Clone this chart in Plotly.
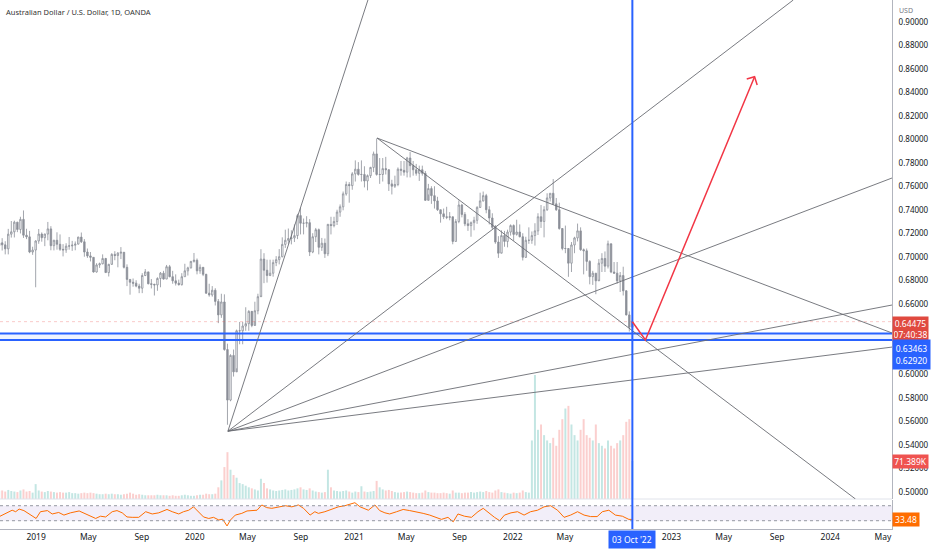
import pandas as pd
import plotly.graph_objects as go

# weekly AUD/USD candles, week starting Mondays
week_start = "2018-10-08"
first_open = 0.7095
close = [
    0.7118, 0.7101, 0.7067, 0.7192, 0.7212, 0.7294, 0.7232, 0.7318, 0.7183, 0.7169, 0.7040, 0.7057, 0.7134,
    # 2019
    0.7193, 0.7162, 0.7193, 0.7237, 0.7094, 0.7140, 0.7106, 0.7063, 0.7058, 0.7090, 0.7092, 0.7098,
    0.7107, 0.7167, 0.7127, 0.7040, 0.7007, 0.6995, 0.6870, 0.6930, 0.6940, 0.6985, 0.6865, 0.6935, 0.7020,
    0.7010, 0.7030, 0.7038, 0.6910, 0.6807, 0.6783, 0.6775, 0.6750, 0.6732, 0.6840, 0.6871, 0.6770, 0.6765, 0.6760,
    0.6815, 0.6860, 0.6810, 0.6915, 0.6830, 0.6795, 0.6775, 0.6762, 0.6830, 0.6880, 0.6905, 0.6960, 0.6970,
    # 2020
    0.6880, 0.6910, 0.6850, 0.6690, 0.6675, 0.6715, 0.6620, 0.6505, 0.6615, 0.6210, 0.5780, 0.6160, 0.6020,
    0.6370, 0.6370, 0.6410, 0.6430, 0.6535, 0.6415, 0.6540, 0.6660, 0.6980, 0.6885, 0.6840, 0.6860, 0.6950,
    0.6975, 0.7000, 0.7105, 0.7140, 0.7155, 0.7160, 0.7180, 0.7350, 0.7285, 0.7285, 0.7290, 0.7040, 0.7170,
    0.7230, 0.7080, 0.7115, 0.7025, 0.7275, 0.7265, 0.7300, 0.7380, 0.7425, 0.7535, 0.7615, 0.7605, 0.7705,
    # 2021
    0.7745, 0.7700, 0.7700, 0.7645, 0.7690, 0.7760, 0.7875, 0.7700, 0.7700, 0.7750, 0.7740, 0.7620, 0.7600,
    0.7615, 0.7745, 0.7735, 0.7720, 0.7840, 0.7775, 0.7740, 0.7710, 0.7740, 0.7710, 0.7480, 0.7580, 0.7520,
    0.7475, 0.7400, 0.7365, 0.7340, 0.7335, 0.7340, 0.7130, 0.7300, 0.7440, 0.7360, 0.7280, 0.7265, 0.7290,
    0.7310, 0.7420, 0.7475, 0.7520, 0.7400, 0.7330, 0.7250, 0.7125, 0.7030, 0.7180, 0.7130, 0.7210, 0.7265,
    # 2022
    0.7190, 0.7210, 0.7170, 0.6995, 0.7140, 0.7140, 0.7180, 0.7220, 0.7340, 0.7300, 0.7400, 0.7500, 0.7540,
    0.7450, 0.7400, 0.7240, 0.7070, 0.7070, 0.6945, 0.7100, 0.7160, 0.7220, 0.7060, 0.7050, 0.6960, 0.6830,
    0.6860, 0.6795, 0.6945, 0.6985, 0.6920, 0.7110, 0.6870, 0.6860, 0.6795, 0.6840, 0.6710, 0.6505, 0.6400,
    0.64475,
]
high = [
    0.7148, 0.7158, 0.7132, 0.7237, 0.7304, 0.7307, 0.7297, 0.7340, 0.7394, 0.7238, 0.7220, 0.7085, 0.7140,
    0.7236, 0.7207, 0.7196, 0.7296, 0.7260, 0.7144, 0.7208, 0.7190, 0.7107, 0.7115, 0.7168, 0.7135,
    0.7130, 0.7170, 0.7206, 0.7150, 0.7070, 0.7040, 0.6997, 0.6945, 0.6950, 0.7020, 0.6990, 0.6940, 0.7030,
    0.7047, 0.7040, 0.7082, 0.7040, 0.6935, 0.6810, 0.6815, 0.6800, 0.6770, 0.6860, 0.6895, 0.6870, 0.6810, 0.6770,
    0.6825, 0.6870, 0.6880, 0.6930, 0.6930, 0.6880, 0.6850, 0.6805, 0.6860, 0.6940, 0.6915, 0.6965, 0.7032,
    0.6985, 0.6935, 0.6895, 0.6855, 0.6770, 0.6750, 0.6732, 0.6640, 0.6685, 0.6680, 0.6260, 0.6170, 0.6210,
    0.6380, 0.6445, 0.6445, 0.6570, 0.6545, 0.6530, 0.6617, 0.6685, 0.7064, 0.7030, 0.6975, 0.6975, 0.6975,
    0.7005, 0.7065, 0.7165, 0.7230, 0.7240, 0.7225, 0.7275, 0.7365, 0.7414, 0.7325, 0.7345, 0.7320, 0.7200,
    0.7245, 0.7240, 0.7160, 0.7155, 0.7280, 0.7340, 0.7340, 0.7400, 0.7445, 0.7555, 0.7640, 0.7635, 0.7720,
    0.7820, 0.7805, 0.7820, 0.7770, 0.7700, 0.7765, 0.7895, 0.8007, 0.7840, 0.7840, 0.7850, 0.7745, 0.7655,
    0.7690, 0.7760, 0.7815, 0.7815, 0.7850, 0.7891, 0.7815, 0.7790, 0.7775, 0.7775, 0.7730, 0.7620, 0.7600,
    0.7600, 0.7510, 0.7400, 0.7410, 0.7425, 0.7380, 0.7340, 0.7320, 0.7480, 0.7450, 0.7380, 0.7320, 0.7300,
    0.7340, 0.7430, 0.7545, 0.7555, 0.7535, 0.7430, 0.7370, 0.7270, 0.7175, 0.7225, 0.7220, 0.7230, 0.7275,
    0.7275, 0.7315, 0.7275, 0.7200, 0.7170, 0.7250, 0.7215, 0.7285, 0.7370, 0.7440, 0.7430, 0.7540, 0.7540,
    0.7661, 0.7500, 0.7460, 0.7230, 0.7265, 0.7035, 0.7125, 0.7170, 0.7282, 0.7250, 0.7070, 0.7070, 0.6970,
    0.6880, 0.6860, 0.6980, 0.7030, 0.7045, 0.7137, 0.7100, 0.6955, 0.6955, 0.6870, 0.6915, 0.6715, 0.6535,
    0.6460,
]
low = [
    0.7041, 0.7053, 0.7020, 0.7020, 0.7163, 0.7164, 0.7209, 0.7198, 0.7160, 0.7150, 0.7030, 0.7016, 0.6740,
    0.7110, 0.7128, 0.7090, 0.7140, 0.7055, 0.7054, 0.7060, 0.7050, 0.7003, 0.7033, 0.7060, 0.7050,
    0.7055, 0.7110, 0.7117, 0.7000, 0.6990, 0.6960, 0.6865, 0.6865, 0.6905, 0.6935, 0.6862, 0.6832, 0.6940,
    0.6970, 0.6910, 0.6980, 0.6900, 0.6750, 0.6677, 0.6745, 0.6740, 0.6690, 0.6690, 0.6835, 0.6765, 0.6730, 0.6670,
    0.6710, 0.6740, 0.6805, 0.6810, 0.6825, 0.6770, 0.6755, 0.6755, 0.6755, 0.6830, 0.6840, 0.6900, 0.6950,
    0.6850, 0.6855, 0.6835, 0.6684, 0.6660, 0.6660, 0.6585, 0.6435, 0.6480, 0.6200, 0.5570, 0.5770, 0.5980,
    0.6050, 0.6255, 0.6255, 0.6370, 0.6370, 0.6400, 0.6450, 0.6510, 0.6670, 0.6775, 0.6780, 0.6835, 0.6830,
    0.6920, 0.6935, 0.6995, 0.7075, 0.7110, 0.7105, 0.7125, 0.7150, 0.7190, 0.7190, 0.7250, 0.7006, 0.7030,
    0.7125, 0.7020, 0.7050, 0.6990, 0.7005, 0.7190, 0.7250, 0.7270, 0.7340, 0.7395, 0.7520, 0.7460, 0.7570,
    0.7640, 0.7690, 0.7640, 0.7590, 0.7565, 0.7670, 0.7720, 0.7690, 0.7620, 0.7640, 0.7700, 0.7560, 0.7530,
    0.7585, 0.7600, 0.7690, 0.7690, 0.7675, 0.7675, 0.7690, 0.7690, 0.7645, 0.7690, 0.7475, 0.7530, 0.7450,
    0.7410, 0.7390, 0.7290, 0.7320, 0.7320, 0.7310, 0.7106, 0.7130, 0.7285, 0.7335, 0.7260, 0.7220, 0.7170,
    0.7225, 0.7280, 0.7415, 0.7470, 0.7370, 0.7275, 0.7235, 0.7110, 0.6990, 0.7035, 0.7085, 0.7080, 0.7180,
    0.7135, 0.7180, 0.7165, 0.6968, 0.6990, 0.7110, 0.7110, 0.7095, 0.7185, 0.7245, 0.7165, 0.7390, 0.7470,
    0.7440, 0.7390, 0.7230, 0.7055, 0.7030, 0.6829, 0.6870, 0.7030, 0.7130, 0.7050, 0.6850, 0.6880, 0.6765,
    0.6760, 0.6681, 0.6805, 0.6870, 0.6870, 0.6900, 0.6860, 0.6855, 0.6770, 0.6700, 0.6670, 0.6500, 0.6363,
    0.6390,
]
volume_k = [
    15, 16, 14, 17, 15, 14, 13, 16, 18, 14, 15, 12, 28,
    16, 14, 13, 15, 14, 13, 12, 13, 12, 12, 13, 11, 11, 10, 11, 12, 11, 12, 11, 10, 9, 9, 10, 9, 10,
    9, 9, 8, 9, 10, 12, 10, 8, 9, 8, 7, 7, 7, 7, 8, 7, 7, 7, 6, 7, 6, 6, 7, 8, 7, 6, 6,
    7, 8, 8, 10, 9, 9, 10, 22, 35, 60, 88, 55, 45, 40, 30, 28, 25, 22, 20, 18, 16, 38, 30, 20, 18, 16,
    15, 16, 17, 18, 16, 17, 18, 20, 22, 18, 17, 20, 16, 14, 13, 12, 13, 55, 22, 16, 15, 14, 15, 16, 14, 12,
    14, 13, 24, 14, 13, 14, 15, 34, 22, 18, 16, 17, 15, 13, 12, 12, 13, 14, 13, 12, 11, 11, 12, 16, 13, 12,
    12, 11, 11, 12, 11, 10, 16, 12, 12, 11, 12, 12, 13, 12, 13, 14, 13, 15, 13, 12, 16, 18, 13, 12, 11, 10,
    12, 11, 12, 16, 13, 12, 110, 233, 130, 140, 120, 110, 105, 115, 100, 130, 150, 170, 175, 140, 120, 110,
    130, 150, 120, 115, 110, 140, 105, 100, 95, 110, 100, 95, 105, 110, 120, 145, 150, 71.389,
]

# RSI(14)
rsi_dates = [
    "2018-10-08", "2018-10-23", "2018-11-07", "2018-11-15", "2018-11-23", "2018-12-04", "2018-12-16",
    "2019-01-01", "2019-01-11", "2019-01-27", "2019-02-07", "2019-02-22", "2019-03-06", "2019-03-21",
    "2019-04-10", "2019-04-21", "2019-05-03", "2019-05-18", "2019-05-29", "2019-06-10", "2019-06-25",
    "2019-07-06", "2019-07-18", "2019-07-29", "2019-08-10", "2019-08-25", "2019-09-10", "2019-09-25",
    "2019-10-10", "2019-10-29", "2019-11-10", "2019-11-25", "2019-12-06", "2019-12-18", "2019-12-29",
    "2020-01-10", "2020-01-21", "2020-02-02", "2020-02-13", "2020-02-25", "2020-03-05", "2020-03-15",
    "2020-03-23", "2020-04-03", "2020-04-18", "2020-04-30", "2020-05-11", "2020-05-23", "2020-06-03",
    "2020-06-14", "2020-06-26", "2020-07-11", "2020-07-27", "2020-08-11", "2020-08-26", "2020-09-07",
    "2020-09-22", "2020-10-03", "2020-10-11", "2020-10-26", "2020-11-10", "2020-11-26", "2020-12-11",
    "2020-12-26", "2021-01-03", "2021-01-15", "2021-02-03", "2021-02-18", "2021-03-01", "2021-03-13",
    "2021-03-24", "2021-04-09", "2021-04-24", "2021-05-09", "2021-05-24", "2021-06-09", "2021-06-24",
    "2021-07-06", "2021-07-21", "2021-08-05", "2021-08-17", "2021-08-28", "2021-09-12", "2021-09-28",
    "2021-10-13", "2021-10-25", "2021-11-09", "2021-11-20", "2021-12-02", "2021-12-13", "2021-12-28",
    "2022-01-12", "2022-01-27", "2022-02-11", "2022-02-27", "2022-03-14", "2022-03-29", "2022-04-14",
    "2022-04-29", "2022-05-14", "2022-05-30", "2022-06-14", "2022-06-29", "2022-07-14", "2022-07-26",
    "2022-08-10", "2022-08-25", "2022-09-10", "2022-09-25", "2022-10-03",
]
rsi_values = [
    40.7, 49.6, 58, 54, 61, 57, 48, 36, 54, 57, 48, 52, 45, 51, 56, 50, 42, 36, 42, 40, 54,
    57, 51, 40, 39, 39, 54, 48, 51, 60, 54, 48, 54, 58, 67, 54, 40, 36, 39, 32, 34, 16,
    32, 45, 49.6, 56, 57, 58, 72, 65, 63, 67, 70, 67, 72, 63, 45, 54, 49.6, 54, 61, 67, 70,
    74.5, 78, 67, 58, 72, 57, 51, 48, 54, 60, 57, 54, 49.6, 45, 39, 33.6, 39, 27, 48, 42, 39,
    54, 63, 48, 39, 30, 45, 51, 54, 45, 54, 58, 67, 70, 58, 39, 45, 54, 45, 41, 41, 54,
    58, 45, 42, 33.5, 33.48,
]

# drawings
last_price = 0.64475
support_levels = [0.63463, 0.62920]
marker_date = "2022-10-03"
fan_origin = ("2020-03-17", 0.5515)
fan_targets = [("2021-02-02", 0.9185), ("2023-10-08", 0.9185), ("2024-05-22", 0.7670),
               ("2024-05-22", 0.6589), ("2024-05-22", 0.6231)]
top_point = ("2021-02-23", 0.8010)
top_targets = [("2024-05-22", 0.6351), ("2024-02-28", 0.4938)]
red_path = [("2022-10-03", 0.6447), ("2022-11-02", 0.6292), ("2023-07-11", 0.8532)]
red_head = [("2023-06-23", 0.8512), ("2023-07-11", 0.8532), ("2023-07-17", 0.8461)]

x_range = ["2018-10-10", "2024-05-22"]
price_range = [0.4938, 0.9185]
price_ticks = [0.50, 0.52, 0.54, 0.56, 0.58, 0.60, 0.62, 0.64, 0.66, 0.68, 0.70,
               0.72, 0.74, 0.76, 0.78, 0.80, 0.82, 0.84, 0.86, 0.88, 0.90]
time_ticks = ["2019-01-01", "2019-05-01", "2019-09-01", "2020-01-01", "2020-05-01", "2020-09-01",
              "2021-01-01", "2021-05-01", "2021-09-01", "2022-01-01", "2022-05-01",
              "2023-01-01", "2023-05-01", "2023-09-01", "2024-01-01", "2024-05-01"]
time_labels = ["2019", "May", "Sep", "2020", "May", "Sep", "2021", "May", "Sep", "2022", "May",
               "2023", "May", "Sep", "2024", "May"]

dates = pd.date_range(week_start, periods=len(close), freq="W-MON")
opens = [first_open] + close[:-1]
vol_colors = ["rgba(38,166,154,0.28)" if c >= o else "rgba(239,83,80,0.28)" for o, c in zip(opens, close)]

FONT = "Noto Sans"
CANDLE = "#8c8f98"
LINE = "#6a6c73"

fig = go.Figure()

fig.add_trace(go.Bar(x=dates, y=volume_k, marker_color=vol_colors, marker_line_width=0,
                     yaxis="y", hoverinfo="skip", showlegend=False))
fig.add_trace(go.Candlestick(
    x=dates, open=opens, high=high, low=low, close=close, yaxis="y3",
    increasing=dict(line=dict(color=CANDLE, width=0.8), fillcolor="#ffffff"),
    decreasing=dict(line=dict(color=CANDLE, width=0.8), fillcolor=CANDLE),
    showlegend=False,
))
fig.add_trace(go.Scatter(x=rsi_dates, y=rsi_values, mode="lines", yaxis="y2",
                         line=dict(color="#ff6d00", width=1), showlegend=False, hoverinfo="skip"))

shapes = []
# RSI band and levels
shapes.append(dict(type="rect", xref="paper", yref="y2", x0=0, x1=1, y0=30, y1=70,
                   fillcolor="rgba(126,87,194,0.10)", line_width=0, layer="below"))
for lvl in (70, 30):
    shapes.append(dict(type="line", xref="paper", yref="y2", x0=0, x1=1, y0=lvl, y1=lvl,
                       line=dict(color="#9598a1", width=1, dash="dot")))
# pane separator
shapes.append(dict(type="line", xref="paper", yref="paper", x0=0, x1=1, y0=0.0567, y1=0.0567,
                   line=dict(color="#e0e3eb", width=1)))
# last price line
shapes.append(dict(type="line", xref="paper", yref="y3", x0=0, x1=1, y0=last_price, y1=last_price,
                   line=dict(color="rgba(239,83,80,0.3)", width=1, dash="dot")))
# support band
shapes.append(dict(type="rect", xref="paper", yref="y3", x0=0, x1=1,
                   y0=support_levels[1], y1=support_levels[0],
                   fillcolor="rgba(41,98,255,0.08)", line_width=0))
for lvl in support_levels:
    shapes.append(dict(type="line", xref="paper", yref="y3", x0=0, x1=1, y0=lvl, y1=lvl,
                       line=dict(color="#2962ff", width=2)))
# fan + trend lines
for tx, ty in fan_targets:
    shapes.append(dict(type="line", xref="x", yref="y3", x0=fan_origin[0], y0=fan_origin[1],
                       x1=tx, y1=ty, line=dict(color=LINE, width=0.9)))
for tx, ty in top_targets:
    shapes.append(dict(type="line", xref="x", yref="y3", x0=top_point[0], y0=top_point[1],
                       x1=tx, y1=ty, line=dict(color=LINE, width=0.9)))
# vertical date marker
shapes.append(dict(type="line", xref="x", yref="paper", x0=marker_date, x1=marker_date, y0=0, y1=1,
                   line=dict(color="#2962ff", width=2)))
# red projection arrow
for pts in (red_path, red_head):
    path = "M " + " L ".join(f"{d},{p}" for d, p in pts)
    shapes.append(dict(type="path", xref="x", yref="y3", path=path,
                       line=dict(color="#f23645", width=1.5)))

label_font = dict(family=FONT, size=8.5, color="white")
annotations = [
    dict(text="Australian Dollar / U.S. Dollar, 1D, OANDA", xref="paper", yref="paper", x=0.005, y=0.99,
         xanchor="left", yanchor="top", showarrow=False, font=dict(family=FONT, size=7.5, color="#333")),
    dict(text="USD", xref="paper", yref="paper", x=1, y=1, xanchor="left", yanchor="top", xshift=5,
         yshift=-4, showarrow=False, font=dict(family=FONT, size=7, color="#787b86")),
    dict(text="0.64475<br>07:40:38", xref="paper", yref="y3", x=1, y=last_price, xanchor="left",
         yanchor="top", yshift=6, showarrow=False, bgcolor="#e0493f", borderpad=1, width=33,
         font=label_font),
    dict(text="0.63463<br>0.62920", xref="paper", yref="y3", x=1, y=support_levels[0], xanchor="left",
         yanchor="top", yshift=-5, showarrow=False, bgcolor="#2962ff", borderpad=1, width=35,
         height=27, font=label_font),
    dict(text="71.389K", xref="paper", yref="y", x=1, y=volume_k[-1], xanchor="left",
         yanchor="middle", showarrow=False, bgcolor="#ef5350", borderpad=1, width=33,
         font=label_font),
    dict(text="33.48", xref="paper", yref="y2", x=1, y=rsi_values[-1], xanchor="left",
         yanchor="middle", showarrow=False, bgcolor="#ff6d00", borderpad=1, width=24,
         font=label_font),
    dict(text="03 Oct '22", xref="x", yref="paper", x=marker_date, y=0, yanchor="top", yshift=-1,
         showarrow=False, bgcolor="#2962ff", borderpad=3,
         font=dict(family=FONT, size=8.5, color="white")),
]

fig.update_layout(
    width=932, height=550,
    margin=dict(l=0, r=40, t=0, b=21),
    paper_bgcolor="white", plot_bgcolor="white",
    showlegend=False, bargap=0.35,
    font=dict(family=FONT, size=8.5, color="#131722"),
    xaxis=dict(type="date", range=x_range, anchor="y2", rangeslider=dict(visible=False),
               tickvals=time_ticks, ticktext=time_labels, showgrid=False, zeroline=False,
               showline=True, linecolor="#b2b5be", ticks="", tickfont=dict(size=8.5, color="#131722")),
    yaxis=dict(domain=[0.0567, 1], range=[0, 937.5], visible=False, fixedrange=True),
    yaxis3=dict(overlaying="y", side="right", range=price_range, tickvals=price_ticks,
                tickformat=".5f", showgrid=False, zeroline=False, showline=True,
                linecolor="#b2b5be", ticks="", ticklabelstandoff=4,
                tickfont=dict(size=8, color="#131722")),
    yaxis2=dict(domain=[0, 0.0548], range=[7.9, 85.2], side="right", showticklabels=False,
                showgrid=False, zeroline=False, showline=True, linecolor="#b2b5be", ticks=""),
    shapes=shapes,
    annotations=annotations,
)

# drop the page's default body margin so the 932x550 figure fills the window
fig.write_html("out.html", config={"displayModeBar": False},
               post_script="document.body.style.margin='0';")
